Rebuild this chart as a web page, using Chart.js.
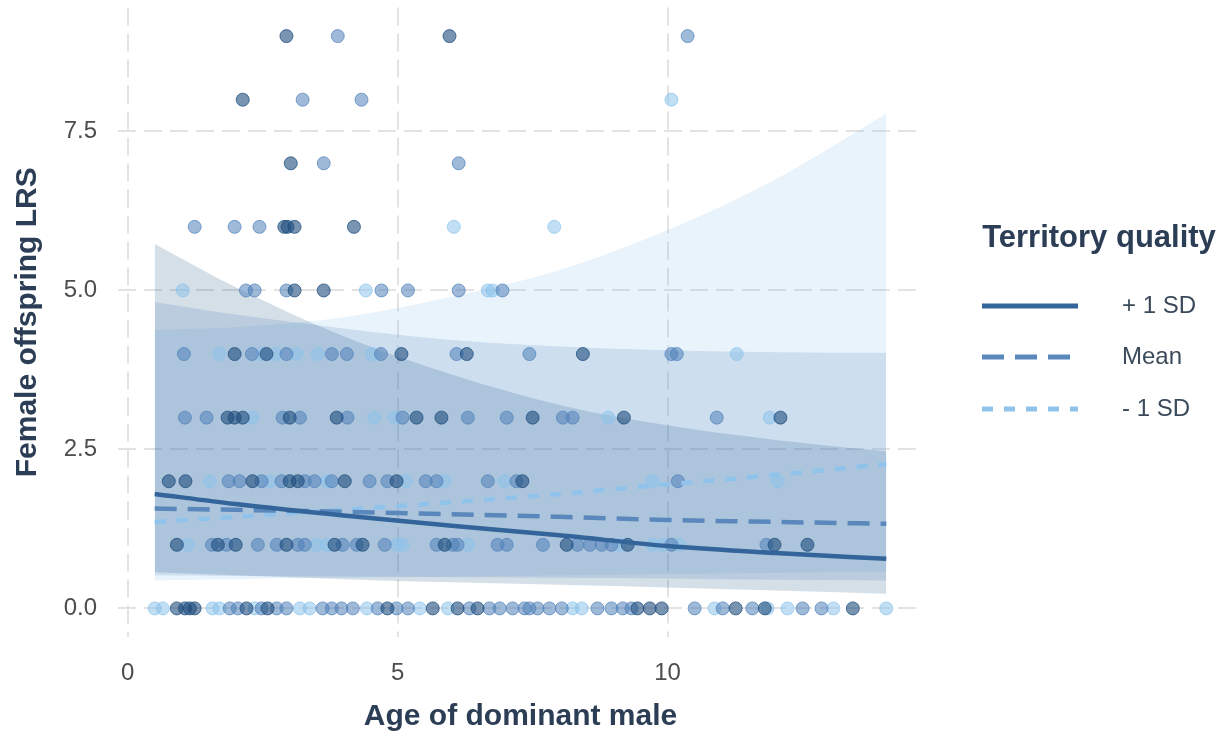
<!DOCTYPE html>
<html>
<head>
<meta charset="utf-8">
<script src="https://cdn.jsdelivr.net/npm/chart.js@4.4.0/dist/chart.umd.min.js"></script>
<style>
html, body { margin: 0; padding: 0; background: #fff; }
canvas { display: block; }
</style>
</head>
<body>
<canvas id="lrsChart" width="1227" height="735"></canvas>
<script>
// model predictions, read at these ages
const xGrid = [0.5, 2, 4, 6, 8, 10, 12, 14.05];
const fitHigh = [1.80, 1.64, 1.46, 1.30, 1.15, 0.98, 0.87, 0.78];
const fitMean = [1.57, 1.55, 1.52, 1.48, 1.44, 1.39, 1.36, 1.33];
const fitLow = [1.36, 1.44, 1.55, 1.67, 1.80, 1.95, 2.10, 2.27];
const highUpper = [5.73, 5.05, 4.28, 3.68, 3.20, 2.88, 2.65, 2.47];
const highLower = [0.57, 0.52, 0.46, 0.41, 0.37, 0.33, 0.28, 0.23];
const meanUpper = [4.82, 4.62, 4.40, 4.22, 4.12, 4.06, 4.03, 4.02];
const meanLower = [0.52, 0.51, 0.50, 0.49, 0.48, 0.47, 0.45, 0.44];
const lowUpper = [4.38, 4.42, 4.58, 4.90, 5.32, 5.95, 6.75, 7.78];
const lowLower = [0.44, 0.46, 0.48, 0.50, 0.52, 0.54, 0.56, 0.58];

// raw observations [age, LRS]
const ptsHigh = [
  [2.94,9],[5.96,9],
  [2.13,8],
  [3.02,7],
  [2.90,6],[2.96,6],[3.09,6],[4.19,6],
  [3.09,5],[3.63,5],
  [1.98,4],[2.57,4],[5.07,4],[6.28,4],[8.43,4],
  [1.85,3],[1.98,3],[2.13,3],[3.0,3],[3.87,3],[5.35,3],[5.81,3],[7.5,3],[9.19,3],[12.09,3],
  [0.76,2],[1.07,2],[2.31,2],[3.0,2],[3.15,2],[4.02,2],[4.98,2],[7.31,2],
  [0.91,1],[1.67,1],[2.0,1],[2.94,1],[3.83,1],[4.35,1],[5.87,1],[8.13,1],[9.26,1],[11.98,1],[12.59,1],
  [0.91,0],[1.06,0],[1.15,0],[1.24,0],[2.2,0],[2.59,0],[4.81,0],[5.65,0],[6.11,0],[6.48,0],[9.44,0],[9.67,0],[9.89,0],[11.26,0],[11.8,0],[13.43,0]
];
const ptsMean = [
  [3.89,9],[10.37,9],
  [3.24,8],[4.33,8],
  [3.63,7],[6.13,7],
  [1.24,6],[1.98,6],[2.44,6],
  [2.19,5],[2.35,5],[2.94,5],[4.7,5],[5.19,5],[6.13,5],[6.94,5],
  [1.04,4],[2.3,4],[2.94,4],[3.78,4],[4.06,4],[4.69,4],[6.09,4],[7.44,4],[10.07,4],[10.17,4],
  [1.06,3],[1.46,3],[2.87,3],[3.19,3],[4.07,3],[5.09,3],[6.3,3],[7.02,3],[8.06,3],[8.24,3],[10.91,3],
  [1.87,2],[2.07,2],[2.48,2],[2.85,2],[3.28,2],[3.46,2],[3.78,2],[4.48,2],[4.81,2],[5.52,2],[5.72,2],[6.67,2],[7.2,2],[10.19,2],
  [1.56,1],[1.83,1],[2.41,1],[2.76,1],[3.15,1],[3.28,1],[3.98,1],[4.24,1],[4.76,1],[5.72,1],[6.02,1],[6.11,1],[6.85,1],[7.02,1],[7.69,1],[8.33,1],[8.56,1],[8.78,1],[8.96,1],[10.07,1],[11.83,1],
  [1.89,0],[2.04,0],[2.48,0],[2.76,0],[2.94,0],[3.61,0],[3.78,0],[3.96,0],[4.17,0],[4.63,0],[4.98,0],[5.19,0],[6.33,0],[6.7,0],[6.89,0],[7.13,0],[7.35,0],[7.44,0],[7.59,0],[7.81,0],[8.04,0],[8.7,0],[8.96,0],[9.17,0],[9.33,0],[10.5,0],[11.02,0],[11.57,0],[12.5,0],[12.85,0]
];
const ptsLow = [
  [10.07,8],
  [6.04,6],[7.9,6],
  [1.02,5],[4.41,5],[6.67,5],[6.76,5],
  [1.7,4],[2.48,4],[2.74,4],[3.13,4],[3.52,4],[4.52,4],[11.28,4],
  [2.31,3],[4.57,3],[4.94,3],[8.9,3],[11.89,3],
  [1.52,2],[2.63,2],[3.69,2],[5.15,2],[5.87,2],[6.98,2],[9.72,2],[12.04,2],
  [1.11,1],[3.5,1],[3.69,1],[4.98,1],[5.09,1],[6.3,1],[9.11,1],[9.72,1],[9.91,1],[10.22,1],
  [0.5,0],[0.65,0],[1.57,0],[1.7,0],[2.35,0],[3.19,0],[3.37,0],[4.43,0],[5.41,0],[5.93,0],[8.24,0],[8.41,0],[10.87,0],[11.85,0],[12.22,0],[13.07,0],[14.05,0]
];

const xTicks = [0, 5, 10];
const yTicks = [0, 2.5, 5, 7.5];
const groupLabels = ['+ 1 SD', 'Mean', '- 1 SD'];

const FONT = "'Liberation Sans', Arial, sans-serif";
const titleColor = '#2c3e55';
const tickColor = '#4d4d4d';
const gridColor = '#e3e3e3';

const toXY = ys => xGrid.map((x, i) => ({ x: x, y: ys[i] }));
const toPts = arr => arr.map(p => ({ x: p[0], y: p[1] }));

function ribbon(upper, lower, fillColor) {
  return [{
    type: 'line',
    data: toXY(upper),
    borderWidth: 0,
    pointRadius: 0,
    backgroundColor: fillColor,
    fill: '+1',
    cubicInterpolationMode: 'monotone',
    order: 3
  }, {
    type: 'line',
    data: toXY(lower),
    borderWidth: 0,
    pointRadius: 0,
    fill: false,
    cubicInterpolationMode: 'monotone',
    order: 3
  }];
}

function fitLine(ys, color, dash, label) {
  return {
    type: 'line',
    label: label,
    data: toXY(ys),
    borderColor: color,
    borderWidth: 4.5,
    borderDash: dash,
    borderCapStyle: 'butt',
    pointRadius: 0,
    fill: false,
    cubicInterpolationMode: 'monotone',
    order: 1
  };
}

function scatter(arr, fill, edge) {
  return {
    type: 'scatter',
    data: toPts(arr),
    backgroundColor: fill,
    borderColor: edge,
    borderWidth: 1,
    pointRadius: 6.5,
    order: 2
  };
}

const datasets = [
  ...ribbon(highUpper, highLower, 'rgba(47,93,142,0.2)'),
  ...ribbon(meanUpper, meanLower, 'rgba(90,136,188,0.2)'),
  ...ribbon(lowUpper, lowLower, 'rgba(143,195,236,0.2)'),
  scatter(ptsHigh, 'rgba(30,77,125,0.6)', 'rgba(30,77,125,0.75)'),
  scatter(ptsMean, 'rgba(80,130,185,0.55)', 'rgba(80,130,185,0.7)'),
  scatter(ptsLow, 'rgba(140,195,235,0.55)', 'rgba(140,195,235,0.7)'),
  fitLine(fitHigh, '#33649a', [], groupLabels[0]),
  fitLine(fitMean, '#5a88bc', [22, 11], groupLabels[1]),
  fitLine(fitLow, '#8fc3ec', [11, 11], groupLabels[2])
];

// legend on the right: title plus the three line keys
const sideLegend = {
  id: 'sideLegend',
  afterDraw(chart) {
    const ctx = chart.ctx;
    ctx.save();
    ctx.fillStyle = titleColor;
    ctx.font = 'bold 31px ' + FONT;
    ctx.textAlign = 'center';
    ctx.textBaseline = 'middle';
    ctx.fillText('Territory quality', 1099, 238);
    const lines = chart.data.datasets.filter(d => d.label);
    const rowsY = [306, 357, 409];
    lines.forEach((d, i) => {
      ctx.beginPath();
      ctx.strokeStyle = d.borderColor;
      ctx.lineWidth = 5;
      ctx.lineCap = 'butt';
      ctx.setLineDash(d.borderDash);
      ctx.moveTo(982, rowsY[i]);
      ctx.lineTo(1078, rowsY[i]);
      ctx.stroke();
      ctx.setLineDash([]);
      ctx.fillStyle = '#3b4a5a';
      ctx.font = '24px ' + FONT;
      ctx.textAlign = 'left';
      ctx.fillText(d.label, 1122, rowsY[i]);
    });
    ctx.restore();
  }
};

new Chart(document.getElementById('lrsChart').getContext('2d'), {
  data: { datasets },
  options: {
    responsive: false,
    animation: false,
    layout: { padding: { left: 0, right: 304, top: 3, bottom: 0 } },
    plugins: {
      legend: { display: false },
      tooltip: { enabled: false }
    },
    scales: {
      x: {
        type: 'linear',
        min: -0.18,
        max: 14.73,
        afterBuildTicks: s => { s.ticks = xTicks.map(v => ({ value: v })); },
        afterFit: s => { s.height = 98; s.paddingLeft = 0; s.paddingRight = 0; },
        ticks: { color: tickColor, font: { size: 24, family: FONT }, padding: 22, callback: v => String(v) },
        grid: { color: gridColor, lineWidth: 2, drawTicks: false },
        border: { display: false, dash: [18, 8] },
        title: {
          display: true,
          text: 'Age of dominant male',
          color: titleColor,
          font: { size: 30, weight: 'bold', family: FONT },
          padding: { top: 0, bottom: 0 }
        }
      },
      y: {
        type: 'linear',
        min: -0.45,
        max: 9.45,
        afterBuildTicks: s => { s.ticks = yTicks.map(v => ({ value: v })); },
        afterFit: s => { s.width = 118; s.paddingTop = 0; s.paddingBottom = 0; },
        ticks: { color: tickColor, font: { size: 24, family: FONT }, padding: 21, callback: v => v.toFixed(1) },
        grid: { color: gridColor, lineWidth: 2, drawTicks: false },
        border: { display: false, dash: [18, 8] },
        title: {
          display: true,
          text: 'Female offspring LRS',
          color: titleColor,
          font: { size: 30, weight: 'bold', family: FONT },
          padding: { top: 10, bottom: 0 }
        }
      }
    }
  },
  plugins: [sideLegend]
});
</script>
</body>
</html>
